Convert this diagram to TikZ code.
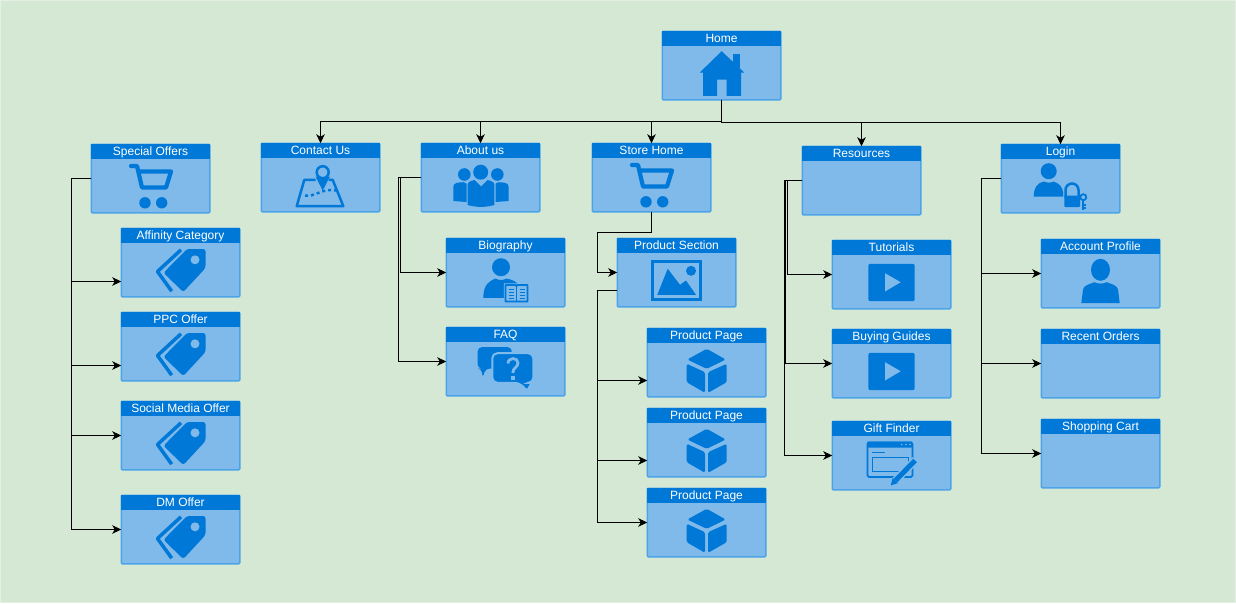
\documentclass[tikz,border=0pt]{standalone}
\usepackage{fontspec}
\setmainfont{Liberation Sans}
\usetikzlibrary{arrows.meta}
\definecolor{pagegreen}{HTML}{D5E8D4}
\definecolor{pageedge}{HTML}{E4F0E3}
\definecolor{cardfill}{HTML}{7FBAEB}
\definecolor{cardline}{HTML}{4DA3E8}
\definecolor{iconblue}{HTML}{0078D7}
\tikzset{
  cardbody/.style={rectangle, draw=cardline, fill=cardfill, line width=1.5pt, rounded corners=1pt,
    minimum width=118.5pt, minimum height=68.5pt, inner sep=0pt, outer sep=0pt},
  cardtitle/.style={rectangle, fill=iconblue, text=white, minimum width=119pt, minimum height=15pt,
    text height=9.6pt, text depth=2pt, inner sep=0pt, anchor=north, font=\fontsize{12}{14}\selectfont},
  link/.style={draw=black, line width=1pt, -{Stealth[length=9pt,width=8.5pt,inset=2.5pt]}},
  homeicon/.pic={
    \fill[iconblue] (11.3,-11.7) rectangle (18,2);
    \fill[iconblue] (0.2,-14.3) -- (22.7,7) -- (19.7,7) -- (19.7,30.3) -- (5,30.3) -- (5,14) -- (-4.3,14)
      -- (-4.3,30.3) -- (-18.3,30.3) -- (-18.3,7) -- (-21.7,7) -- cycle;
  },
  carticon/.pic={
    \draw[iconblue, line width=4.2pt, line cap=round, line join=round]
      (-19.5,-12.5) -- (-13.5,-12.5) -- (-8.5,9) -- (15.5,9) -- (20.5,-7) -- (-11,-7);
    \fill[iconblue] (-5.5,24.3) circle[radius=5.7] (11.2,24.3) circle[radius=5.7];
  },
  tagicon/.pic={
    \draw[iconblue, line width=3.5pt, line join=round] (0.5,-12.7) -- (-23,9) -- (-8.8,28.7);
    \fill[iconblue, rounded corners=2.5pt] (6.5,-13.5) -- (25,-13.5) -- (25,5.5) -- (2.8,29.5) -- (-17,10.3) -- cycle;
    \fill[cardfill] (14.5,-2.7) circle[radius=4.5];
  },
  mapicon/.pic={
    \draw[iconblue, line width=2.5pt, line join=round]
      (-5,2.3) -- (-16.2,2.3) -- (-23.8,28.7) -- (22.8,28.7) -- (12.2,2.3) -- (8,2.3);
    \draw[iconblue, line width=2.5pt, dash pattern=on 3pt off 3pt] (-15.5,18) .. controls (-6,20) and (2,10) .. (16,13);
    \fill[iconblue] (2.2,13) -- (-5,-1) -- (9.4,-1) -- cycle;
    \draw[iconblue, fill=cardfill, line width=2.5pt] (2.2,-5.3) circle[radius=6];
  },
  peopleicon/.pic={
    \fill[iconblue] (0.2,-5.3) circle[radius=7.5] (-16.2,-3) circle[radius=6.3] (16.8,-3) circle[radius=6.3];
    \fill[iconblue] (-27.2,23.5) -- (-27.2,9) .. controls (-27,5) and (-22,5) .. (-17,4.7) -- (-14,6) -- (-14,24.5) -- cycle;
    \fill[iconblue] (28,23.5) -- (28,9) .. controls (28,5) and (23,5) .. (18,4.7) -- (15,6) -- (15,24.5) -- cycle;
    \fill[iconblue] (-12.8,27.5) -- (-12.8,7) .. controls (-12.8,4) and (-8,3) .. (-6,2.5) -- (0.5,9) -- (7,2.5)
      .. controls (9,3) and (13.8,4) .. (13.8,7) -- (13.8,27.5) .. controls (5,30) and (-4,30) .. (-12.8,27.5) -- cycle;
  },
  readericon/.pic={
    \fill[iconblue] (-4.5,-5.3) circle[radius=9];
    \fill[iconblue] (-22.2,25.3) .. controls (-22,16) and (-20,10) .. (-10,6) .. controls (-7,8) and (-2,8) .. (1,6)
      .. controls (5,7) and (9,8) .. (12,11) -- (12,25.3) -- cycle;
    \draw[iconblue, fill=cardfill, line width=1.6pt, line join=round, preaction={draw=cardfill, line width=3.5pt}]
      (0,12.5) -- (10.5,12.5) -- (11,14) -- (11.5,12.5) -- (22,12.5) -- (22,29) -- (11,29) -- (0,29) -- cycle;
    \draw[iconblue, line width=1.2pt] (11,14) -- (11,29);
    \draw[iconblue, line width=.7pt] (3,17) -- (8,17) (3,20) -- (8,20) (3,23) -- (8,23) (3,26) -- (8,26)
      (14,17) -- (19,17) (14,20) -- (19,20) (14,23) -- (19,23) (14,26) -- (19,26);
  },
  chaticon/.pic={
    \fill[iconblue, rounded corners=4pt] (-27.8,-14.3) -- (6.2,-14.3) -- (6.2,7) -- (-20,7) -- (-22.8,16.7) -- (-24,7) -- (-27.8,7) -- cycle;
    \fill[iconblue, draw=cardfill, line width=2pt, rounded corners=5pt]
      (-13.2,-8.3) -- (27.8,-8.3) -- (27.8,21.3) -- (24,21.3) -- (23,31) -- (14,21.3) -- (-13.2,21.3) -- cycle;
    \draw[cardfill, line width=2.8pt] (2.5,2) .. controls (2.5,-4.5) and (12.5,-4.5) .. (12.5,1.5)
      .. controls (12.5,6) and (7.3,6) .. (7.3,11.5);
    \fill[cardfill] (5.5,14) rectangle (9.2,18);
  },
  photoicon/.pic={
    \draw[iconblue, line width=3pt] (-24.3,-11.5) rectangle (24.3,27.2);
    \fill[iconblue] (-19.2,22.3) -- (-8.8,-3.7) -- (3.5,12.3) -- (9.5,8) -- (19.5,22.3) -- cycle;
    \fill[iconblue] (14.5,-1.7) circle[radius=5];
  },
  cubeicon/.pic={
    \fill[iconblue, rounded corners=1.5pt] (0.2,-13.7) -- (19.2,-3) -- (0.2,6.3) -- (-19.2,-3) -- cycle;
    \fill[iconblue, rounded corners=1.5pt] (-19.8,1.3) -- (-1.5,9.7) -- (-1.5,30.3) -- (-19.8,19.7) -- cycle;
    \fill[iconblue, rounded corners=1.5pt] (1.5,9.7) -- (20.2,1.3) -- (20.2,19.7) -- (1.5,30.3) -- cycle;
  },
  playicon/.pic={
    \fill[iconblue, rounded corners=2pt] (-23.2,-10.7) rectangle (23.2,26.7);
    \fill[cardfill] (-6.5,-1.3) -- (9.2,7.7) -- (-6.5,17) -- cycle;
  },
  formicon/.pic={
    \draw[iconblue, line width=1.6pt, rounded corners=1.5pt] (-24,-13) rectangle (21,21.5);
    \fill[iconblue, rounded corners=1pt] (-24.5,-14) rectangle (21.2,-8);
    \fill[cardfill] (10.2,-11) circle[radius=.9] (14.5,-11) circle[radius=.9] (18.5,-11) circle[radius=.9];
    \draw[iconblue, line width=.9pt] (-19.8,-3) -- (-6.5,-3);
    \draw[iconblue, line width=1.2pt] (-19.2,1.7) rectangle (16.8,15.7);
    \draw[cardfill, line width=8pt] (24,4.5) -- (3,26);
    \draw[iconblue, line width=5pt] (23.5,5) -- (4,25);
    \fill[iconblue] (1.2,22.5) -- (6.5,27.5) -- (-0.8,30) -- cycle;
  },
  loginicon/.pic={
    \fill[iconblue] (-11.8,-7.3) circle[radius=8];
    \fill[iconblue] (-26.8,18) .. controls (-26.5,9) and (-24,5) .. (-16.5,3) .. controls (-14,4.5) and (-9,4.5) .. (-7,3)
      .. controls (-1,5) and (1.5,8) .. (2.8,14) -- (2.8,18) -- cycle;
    \draw[iconblue, fill=cardfill, line width=2.5pt, preaction={draw=cardfill, line width=4pt}] (5,19) -- (5,11.5) arc[start angle=180, end angle=360, radius=6.5] -- (18,19);
    \fill[iconblue, rounded corners=1pt] (3.8,17) rectangle (19.5,28.7);
    \draw[iconblue, line width=1.8pt] (22.8,18.7) circle[radius=3];
    \draw[iconblue, line width=2pt] (22.8,22) -- (22.8,31) (22.8,26) -- (25.5,26) (22.8,29) -- (25.5,29);
  },
  usericon/.pic={
    \fill[iconblue] (0,-3.7) ellipse[x radius=9.5, y radius=11];
    \fill[iconblue] (-19.2,29.7) -- (-17.5,16) .. controls (-17,12) and (-11,10.5) .. (-6,8.7) .. controls (-3,10.5) and (3,10.5) .. (6,8.7)
      .. controls (11,10.5) and (17,12) .. (17.5,16) -- (19.2,29.7) -- cycle;
  }
}
\newcommand{\card}[4]{%
  \node[cardbody] (#1) at (#2,#3) {};
  \node[cardtitle] (#1title) at (#1.north) {#4};}
\begin{document}
\begin{tikzpicture}[x=1pt,y=-1pt]
\filldraw[fill=pagegreen, draw=pageedge, line width=1pt] (.5,.5) rectangle (1235.5,602.5);
\useasboundingbox (0,0) rectangle (1236,603);
% top row
\card{home}{721.5}{65.5}{Home}
\card{special}{150.5}{178.5}{Special Offers}
\card{contact}{320.5}{177.5}{Contact Us}
\card{about}{480.5}{177.5}{About us}
\card{store}{651.5}{177.5}{Store Home}
\card{resources}{861.5}{180.5}{Resources}
\card{login}{1060.5}{178.5}{Login}
% offers
\card{affinity}{180.5}{262.5}{Affinity Category}
\card{ppc}{180.5}{346.5}{PPC Offer}
\card{social}{180.5}{435.5}{Social Media Offer}
\card{dm}{180.5}{529.5}{DM Offer}
% about
\card{biography}{505.5}{272.5}{Biography}
\card{faq}{505.5}{361.5}{FAQ}
% store
\card{section}{676.5}{272.5}{Product Section}
\card{pageone}{706.5}{362.5}{Product Page}
\card{pagetwo}{706.5}{442.5}{Product Page}
\card{pagethree}{706.5}{522.5}{Product Page}
% resources
\card{tutorials}{891.5}{274.5}{Tutorials}
\card{guides}{891.5}{363.5}{Buying Guides}
\card{gift}{891.5}{455.5}{Gift Finder}
% login
\card{account}{1100.5}{273.5}{Account Profile}
\card{orders}{1100.5}{363.5}{Recent Orders}
\card{basket}{1100.5}{453.5}{Shopping Cart}
% icons
\pic at (home.center) {homeicon};
\pic at (contact.center) {mapicon};
\pic at (about.center) {peopleicon};
\pic at (biography.center) {readericon};
\pic at (faq.center) {chaticon};
\pic at (section.center) {photoicon};
\pic at (gift.center) {formicon};
\pic at (login.center) {loginicon};
\pic at (account.center) {usericon};
\foreach \n in {special,store} \pic at (\n.center) {carticon};
\foreach \n in {affinity,ppc,social,dm} \pic at (\n.center) {tagicon};
\foreach \n in {pageone,pagetwo,pagethree} \pic at (\n.center) {cubeicon};
\foreach \n in {tutorials,guides} \pic at (\n.center) {playicon};
% rails
\coordinate (busleft) at (721.5,121.5);
\coordinate (busright) at (721.5,122.5);
\coordinate (specialrail) at (71.5,178.5);
\coordinate (storerail) at (597.5,232.5);
\coordinate (sectionrail) at (597.5,290.5);
\coordinate (loginrail) at (981.5,178.5);
\coordinate (aboutrailA) at (400.5,177.5);
\coordinate (aboutrailB) at (398.5,177.5);
\coordinate (resrailA) at (787.5,180.5);
\coordinate (resrailB) at (785.5,180.5);
\coordinate (resrailC) at (784.5,180.5);
% connectors
\foreach \n in {contact,about,store} \draw[link] (home.south) -- (busleft) -| (\n.north);
\foreach \n in {resources,login} \draw[link] (home.south) -- (busright) -| (\n.north);
\foreach \n/\off in {affinity/19,ppc/19,social/0,dm/0}
  \draw[link] (special.west) -- (specialrail) |- ([yshift=-\off pt]\n.west);
\draw[link] (about.west) -- (aboutrailA) |- (biography.west);
\draw[link] (about.west) -- (aboutrailB) |- (faq.west);
\draw[link] (store.south) |- (storerail) |- (section.west);
\foreach \n/\off in {pageone/18,pagetwo/18,pagethree/0}
  \draw[link] ([yshift=-18pt]section.west) -- (sectionrail) |- ([yshift=-\off pt]\n.west);
\draw[link] (resources.west) -- (resrailA) |- (tutorials.west);
\draw[link] (resources.west) -- (resrailB) |- (guides.west);
\draw[link] (resources.west) -- (resrailC) |- (gift.west);
\foreach \n in {account,orders,basket} \draw[link] (login.west) -- (loginrail) |- (\n.west);
\end{tikzpicture}
\end{document}
